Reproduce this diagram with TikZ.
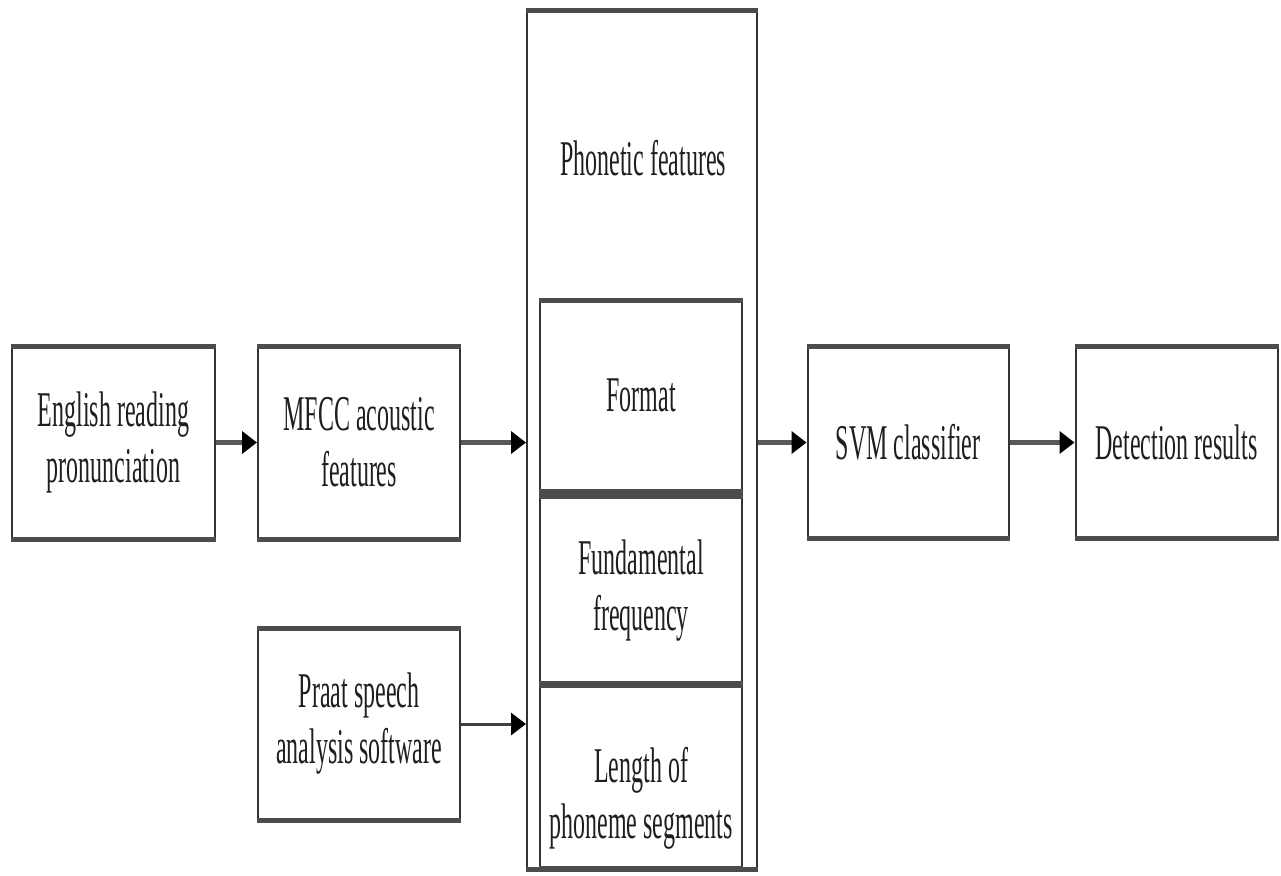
\documentclass[tikz,border=0pt]{standalone}
\usepackage{fontspec}
\setmainfont[FakeStretch=0.48]{Liberation Serif}
\usetikzlibrary{arrows.meta}
\begin{document}
\begin{tikzpicture}[x=1pt,y=-1pt,
  box/.style={draw=black!80, line width=2pt, inner sep=0pt, align=center,
    font=\fontsize{50}{56}\selectfont, text=black!88},
  txt/.style={inner sep=0pt, align=center, font=\fontsize{50}{56}\selectfont, text=black!88},
  edge/.style={draw=black!70, line width=5pt},
  arr/.style={draw=black!65, line width=5pt, -{Triangle[length=15pt,width=22pt,color=black]}},
  arrthin/.style={draw=black!75, line width=3pt, -{Triangle[length=15pt,width=22pt,color=black]}}
]
\useasboundingbox (0,0) rectangle (1281,875);
\fill[white] (0,0) rectangle (1281,875);

% nodes
\node[box, minimum width=203pt, minimum height=191pt] (eng) at (113.5,442.5) {English reading\\pronunciation};
\node[box, minimum width=202pt, minimum height=191pt] (mfcc) at (359,442.5) {MFCC acoustic\\features};
\node[box, minimum width=202pt, minimum height=190pt] (praat) at (359,724) {Praat speech\\analysis software};
\node[box, minimum width=230pt, minimum height=856pt] (big) at (642,440) {};
\node[txt] (phon) at (643,158) {Phonetic features};
\node[box, minimum width=202pt, minimum height=189pt] (format) at (641,395.5) {Format};
\node[box, minimum width=202pt, minimum height=187pt] (fund) at (641,590.5) {Fundamental\\frequency};
\node[box, minimum width=202pt, minimum height=183pt] (len) at (641,775.5) {};
\node[txt] (lentext) at (641,798) {Length of\\phoneme segments};
\node[box, minimum width=201pt, minimum height=190pt] (svm) at (908,442.5) {SVM classifier};
\node[box, minimum width=202pt, minimum height=190pt] (det) at (1176.5,442.5) {Detection results};

% thick top/bottom borders
\foreach \n in {eng,mfcc,praat,big,format,fund,len,svm,det}{
  \draw[edge] (\n.north west) -- (\n.north east);
  \draw[edge] (\n.south west) -- (\n.south east);
}

% connectors
\draw[arr] (eng.east) -- (mfcc.west);
\draw[arr] (mfcc.east) -- (mfcc.east -| big.west);
\draw[arr] (svm.west -| big.east) -- (svm.west);
\draw[arr] (svm.east) -- (det.west);
\draw[arrthin] (praat.east) -- (praat.east -| big.west);
\end{tikzpicture}
\end{document}
